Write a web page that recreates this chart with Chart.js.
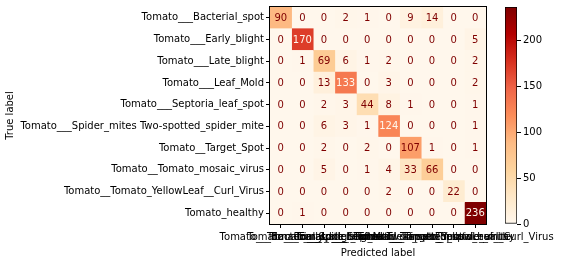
<!DOCTYPE html>
<html><head><meta charset="utf-8">
<script src="https://cdn.jsdelivr.net/npm/chart.js@4"></script>
<style>
html,body{margin:0;padding:0;background:#fff;overflow:hidden}
#wrap{position:relative;width:562px;height:263px}
#main{position:absolute;left:0;top:0}
#cbar{position:absolute;left:490px;top:0}
</style></head><body>
<div id="wrap"><canvas id="main" width="562" height="263"></canvas><canvas id="cbar" width="72" height="263"></canvas></div>
<script>
// ---- data ----
const classLabels = [
  "Tomato___Bacterial_spot",
  "Tomato___Early_blight",
  "Tomato___Late_blight",
  "Tomato___Leaf_Mold",
  "Tomato___Septoria_leaf_spot",
  "Tomato___Spider_mites Two-spotted_spider_mite",
  "Tomato__Target_Spot",
  "Tomato__Tomato_mosaic_virus",
  "Tomato__Tomato_YellowLeaf__Curl_Virus",
  "Tomato_healthy"
];
const rowBacterialSpot = [90, 0, 0, 2, 1, 0, 9, 14, 0, 0];
const rowEarlyBlight   = [0, 170, 0, 0, 0, 0, 0, 0, 0, 5];
const rowLateBlight    = [0, 1, 69, 6, 1, 2, 0, 0, 0, 2];
const rowLeafMold      = [0, 0, 13, 133, 0, 3, 0, 0, 0, 2];
const rowSeptoria      = [0, 0, 2, 3, 44, 8, 1, 0, 0, 1];
const rowSpiderMites   = [0, 0, 6, 3, 1, 124, 0, 0, 0, 1];
const rowTargetSpot    = [0, 0, 2, 0, 2, 0, 107, 1, 0, 1];
const rowMosaicVirus   = [0, 0, 5, 0, 1, 4, 33, 66, 0, 0];
const rowYellowLeaf    = [0, 0, 0, 0, 0, 2, 0, 0, 22, 0];
const rowHealthy       = [0, 1, 0, 0, 0, 0, 0, 0, 0, 236];
const colorbarTicks = [0, 50, 100, 150, 200];

const matrix = [rowBacterialSpot, rowEarlyBlight, rowLateBlight, rowLeafMold, rowSeptoria,
                rowSpiderMites, rowTargetSpot, rowMosaicVirus, rowYellowLeaf, rowHealthy];
const trueLabels = classLabels;
const predictedLabels = classLabels;

// ---- colormap (OrRd) ----
const ORRD = ['#fff7ec','#fee8c8','#fdd49e','#fdbb84','#fc8d59','#ef6548','#d7301f','#b30000','#7f0000'];
function hex2rgb(h){return [parseInt(h.slice(1,3),16),parseInt(h.slice(3,5),16),parseInt(h.slice(5,7),16)];}
function orrd(t){
  t = Math.max(0, Math.min(1, t));
  const p = t * (ORRD.length - 1);
  const i = Math.min(ORRD.length - 2, Math.floor(p));
  const f = p - i;
  const a = hex2rgb(ORRD[i]), b = hex2rgb(ORRD[i+1]);
  const c = a.map((v,k)=>Math.round(v + (b[k]-v)*f));
  return `rgb(${c[0]},${c[1]},${c[2]})`;
}
const vmin = Math.min(...matrix.flat());
const vmax = Math.max(...matrix.flat());
const thresh = (vmax + vmin) / 2;

Chart.defaults.font.family = "'DejaVu Sans', sans-serif";
Chart.defaults.font.size = 10;
Chart.defaults.color = '#000';

const datasets = predictedLabels.map((p, j) => ({
  label: p,
  data: trueLabels.map(() => [j, j + 1]),
  backgroundColor: matrix.map(row => orrd((row[j] - vmin) / (vmax - vmin))),
  borderWidth: 0,
  grouped: false,
  barPercentage: 1,
  categoryPercentage: 1
}));

const cellPlugin = {
  id: 'cells',
  beforeDatasetsDraw(chart){
    const {ctx, chartArea:a} = chart;
    ctx.save(); ctx.fillStyle = ORRD[0];
    ctx.fillRect(a.left, a.top, a.right - a.left, a.bottom - a.top);
    ctx.restore();
  },
  afterDatasetsDraw(chart){
    const {ctx, chartArea:a} = chart;
    ctx.save();
    ctx.font = "10px 'DejaVu Sans'";
    ctx.textAlign = 'center';
    ctx.textBaseline = 'middle';
    predictedLabels.forEach((p, j) => {
      const meta = chart.getDatasetMeta(j);
      meta.data.forEach((el, i) => {
        const v = matrix[i][j];
        const c = el.getCenterPoint();
        ctx.fillStyle = v < thresh ? ORRD[ORRD.length-1] : ORRD[0];
        ctx.fillText(String(v), c.x, c.y + 0.5);
      });
    });
    ctx.strokeStyle = '#000';
    ctx.lineWidth = 1;
    ctx.strokeRect(Math.round(a.left) - 0.5, Math.round(a.top) - 0.5, Math.round(a.right - a.left) + 1, Math.round(a.bottom - a.top) + 1);
    ctx.restore();
  }
};

new Chart(document.getElementById('main'), {
  type: 'bar',
  data: { labels: trueLabels, datasets },
  options: {
    indexAxis: 'y',
    responsive: false,
    animation: false,
    devicePixelRatio: 1,
    layout: { padding: { left: 0, top: 7, right: 76, bottom: 0 } },
    plugins: { legend: { display: false }, tooltip: { enabled: false } },
    scales: {
      x: { type: 'linear', min: 0, max: predictedLabels.length, display: false },
      xc: {
        type: 'category', labels: predictedLabels, position: 'bottom', offset: true,
        grid: { offset: false, drawOnChartArea: false, drawTicks: true, tickLength: 4, color: '#000' },
        border: { display: false },
        ticks: { autoSkip: false, maxRotation: 0, minRotation: 0, color: '#000', padding: 3 },
        title: { display: true, text: 'Predicted label', color: '#000', padding: { top: 0, bottom: 4 } },
        afterFit(s){ s.height = 39; s.paddingLeft = 0; s.paddingRight = 0; }
      },
      y: {
        type: 'category', offset: true,
        grid: { offset: false, drawOnChartArea: false, drawTicks: true, tickLength: 4, color: '#000' },
        border: { display: false },
        ticks: { autoSkip: false, color: '#000', padding: 2 },
        title: { display: true, text: 'True label', color: '#000', padding: { top: 4, bottom: 0 } },
        afterFit(s){ s.width = 270; s.paddingTop = 0; s.paddingBottom = 0; }
      }
    }
  },
  plugins: [cellPlugin]
});

// ---- colorbar ----
new Chart(document.getElementById('cbar'), {
  type: 'bar',
  data: { labels: [''], datasets: [{
    data: [[vmin, vmax]],
    backgroundColor(ctx){
      const chart = ctx.chart; const a = chart.chartArea;
      if (!a) return ORRD[0];
      const g = chart.ctx.createLinearGradient(0, a.bottom, 0, a.top);
      for (let k = 0; k <= 40; k++) g.addColorStop(k/40, orrd(k/40));
      return g;
    },
    borderColor: '#000', borderWidth: 1, borderSkipped: false,
    barPercentage: 1, categoryPercentage: 1
  }]},
  options: {
    responsive: false, animation: false, devicePixelRatio: 1,
    layout: { padding: { left: 15, top: 7, right: 0, bottom: 39 } },
    plugins: { legend: { display: false }, tooltip: { enabled: false } },
    scales: {
      x: { display: false },
      y: {
        position: 'right', min: vmin, max: vmax,
        afterBuildTicks(s){ s.ticks = colorbarTicks.map(v => ({value: v})); },
        ticks: { color: '#000', padding: 2 },
        grid: { drawOnChartArea: false, drawTicks: true, tickLength: 4, color: '#000' },
        border: { display: false },
        afterFit(s){ s.width = 45; s.paddingTop = 0; s.paddingBottom = 0; }
      }
    }
  }
});
</script>
</body></html>
